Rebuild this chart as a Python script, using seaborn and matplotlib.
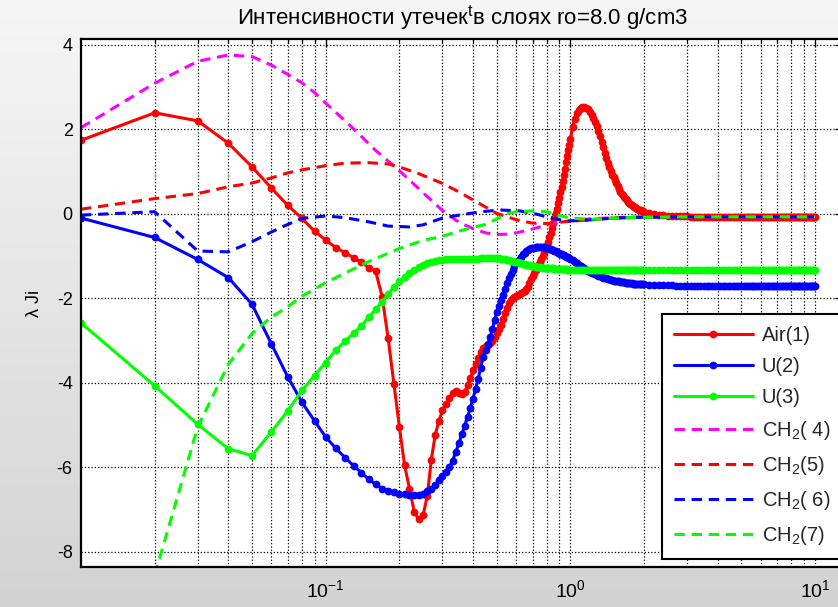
import numpy as np
import matplotlib
matplotlib.use("Agg")
import matplotlib.pyplot as plt
import seaborn as sns
from matplotlib.ticker import FixedLocator, LogLocator, NullFormatter
from matplotlib.colors import LinearSegmentedColormap

# ---------------- data ----------------
# shared x grid of the marker series
X_A = [0.01, 0.02, 0.03, 0.04, 0.05, 0.06, 0.07, 0.08, 0.09, 0.10,
       0.11, 0.12, 0.13, 0.14, 0.15, 0.16, 0.17, 0.18, 0.19, 0.20,
       0.21, 0.22, 0.23, 0.24, 0.25, 0.26, 0.27, 0.28, 0.29, 0.30]
X_B = [0.31, 0.32, 0.33, 0.34, 0.35, 0.36, 0.37, 0.38, 0.39, 0.40,
       0.41, 0.42, 0.43, 0.44, 0.45, 0.46, 0.47, 0.48, 0.49, 0.50,
       0.51, 0.52, 0.53, 0.54, 0.55, 0.56, 0.57, 0.58, 0.59, 0.60,
       0.61, 0.62, 0.63, 0.64, 0.65, 0.66, 0.67, 0.68, 0.69, 0.70,
       0.71, 0.72, 0.73, 0.74, 0.75, 0.76, 0.77, 0.78, 0.79, 0.80,
       0.81, 0.82, 0.83, 0.84, 0.85, 0.86, 0.87, 0.88, 0.89, 0.90,
       0.91, 0.92, 0.93, 0.94, 0.95, 0.96, 0.97, 0.98, 0.99, 1.00]
X_C = [1.02, 1.04, 1.06, 1.08, 1.10, 1.12, 1.14, 1.16, 1.18, 1.20,
       1.22, 1.24, 1.26, 1.28, 1.30, 1.32, 1.34, 1.36, 1.38, 1.40,
       1.42, 1.44, 1.46, 1.48, 1.50, 1.52, 1.54, 1.56, 1.58, 1.60,
       1.62, 1.64, 1.66, 1.68, 1.70, 1.72, 1.74, 1.76, 1.78, 1.80,
       1.82, 1.84, 1.86, 1.88, 1.90, 1.92, 1.94, 1.96, 1.98, 2.00]
X_D = [2.1, 2.2, 2.3, 2.4, 2.5, 2.6, 2.7, 2.8, 2.9, 3.0,
       3.1, 3.2, 3.3, 3.4, 3.5, 3.6, 3.7, 3.8, 3.9, 4.0,
       4.1, 4.2, 4.3, 4.4, 4.5, 4.6, 4.7, 4.8, 4.9, 5.0,
       5.1, 5.2, 5.3, 5.4, 5.5, 5.6, 5.7, 5.8, 5.9, 6.0,
       6.1, 6.2, 6.3, 6.4, 6.5, 6.6, 6.7, 6.8, 6.9, 7.0,
       7.1, 7.2, 7.3, 7.4, 7.5, 7.6, 7.7, 7.8, 7.9, 8.0,
       8.1, 8.2, 8.3, 8.4, 8.5, 8.6, 8.7, 8.8, 8.9, 9.0,
       9.1, 9.2, 9.3, 9.4, 9.5, 9.6, 9.7, 9.8, 9.9, 10.0]

AIR1_A = [1.74, 2.39, 2.20, 1.67, 1.11, 0.61, 0.20, -0.11, -0.41, -0.62,
          -0.80, -0.92, -1.04, -1.15, -1.27, -1.36, -1.96, -2.95, -4.03, -5.04,
          -5.95, -6.50, -7.05, -7.23, -7.13, -6.68, -5.83, -5.24, -4.90, -4.65]
AIR1_B = [-4.50, -4.35, -4.25, -4.20, -4.23, -4.26, -4.22, -4.05, -3.88, -3.70,
          -3.55, -3.40, -3.27, -3.17, -3.12, -3.10, -3.06, -3.00, -2.92, -2.83,
          -2.73, -2.62, -2.48, -2.35, -2.22, -2.12, -2.04, -1.99, -1.96, -1.94,
          -1.92, -1.90, -1.88, -1.86, -1.83, -1.79, -1.72, -1.63, -1.55, -1.48,
          -1.40, -1.33, -1.26, -1.20, -1.13, -1.07, -1.00, -0.92, -0.84, -0.75,
          -0.66, -0.56, -0.45, -0.33, -0.22, -0.10, 0.01, 0.12, 0.25, 0.38,
          0.51, 0.64, 0.78, 0.92, 1.07, 1.22, 1.36, 1.50, 1.64, 1.78]
AIR1_C = [2.05, 2.25, 2.38, 2.46, 2.51, 2.53, 2.53, 2.51, 2.47, 2.42,
          2.35, 2.26, 2.17, 2.07, 1.97, 1.84, 1.71, 1.58, 1.45, 1.33,
          1.21, 1.10, 1.01, 0.93, 0.86, 0.79, 0.72, 0.65, 0.58, 0.52,
          0.48, 0.44, 0.40, 0.36, 0.32, 0.29, 0.26, 0.24, 0.21, 0.19,
          0.17, 0.15, 0.13, 0.11, 0.10, 0.09, 0.08, 0.07, 0.06, 0.05]
AIR1_D = [0.02, 0.00, -0.02, -0.03, -0.04, -0.05, -0.05, -0.06, -0.06, -0.06,
          -0.07, -0.07, -0.07, -0.07, -0.07, -0.07, -0.07, -0.07, -0.07, -0.07,
          -0.07, -0.07, -0.07, -0.07, -0.07, -0.07, -0.07, -0.07, -0.07, -0.07,
          -0.07, -0.07, -0.07, -0.07, -0.07, -0.07, -0.07, -0.07, -0.07, -0.07,
          -0.07, -0.07, -0.07, -0.07, -0.07, -0.07, -0.07, -0.07, -0.07, -0.07,
          -0.07, -0.07, -0.07, -0.07, -0.07, -0.07, -0.07, -0.07, -0.07, -0.07,
          -0.07, -0.07, -0.07, -0.07, -0.07, -0.07, -0.07, -0.07, -0.07, -0.07,
          -0.07, -0.07, -0.07, -0.07, -0.07, -0.07, -0.07, -0.07, -0.07, -0.07]

U2_A = [-0.10, -0.56, -1.08, -1.51, -2.14, -3.08, -3.86, -4.46, -4.90, -5.28,
        -5.55, -5.77, -5.96, -6.13, -6.28, -6.40, -6.50, -6.56, -6.59, -6.62,
        -6.64, -6.65, -6.66, -6.65, -6.62, -6.57, -6.50, -6.42, -6.30, -6.20]
U2_B = [-6.11, -6.00, -5.84, -5.64, -5.43, -5.22, -5.01, -4.80, -4.59, -4.37,
        -4.14, -3.90, -3.64, -3.38, -3.23, -3.08, -2.91, -2.72, -2.52, -2.32,
        -2.18, -2.05, -1.91, -1.77, -1.64, -1.52, -1.42, -1.32, -1.24, -1.17,
        -1.11, -1.06, -1.01, -0.96, -0.92, -0.89, -0.86, -0.84, -0.82, -0.81,
        -0.80, -0.79, -0.78, -0.78, -0.78, -0.78, -0.78, -0.79, -0.80, -0.81,
        -0.82, -0.83, -0.84, -0.85, -0.86, -0.88, -0.89, -0.90, -0.92, -0.93,
        -0.95, -0.96, -0.97, -0.98, -1.00, -1.01, -1.02, -1.03, -1.05, -1.06]
U2_C = [-1.10, -1.13, -1.17, -1.20, -1.23, -1.26, -1.29, -1.32, -1.35, -1.37,
        -1.39, -1.41, -1.43, -1.45, -1.46, -1.48, -1.49, -1.51, -1.52, -1.53,
        -1.54, -1.55, -1.56, -1.57, -1.58, -1.59, -1.59, -1.60, -1.60, -1.61,
        -1.61, -1.62, -1.62, -1.63, -1.63, -1.63, -1.64, -1.64, -1.64, -1.65,
        -1.65, -1.65, -1.66, -1.66, -1.66, -1.66, -1.67, -1.67, -1.67, -1.67]
U2_D = [-1.68, -1.68, -1.69, -1.69, -1.69, -1.69, -1.70, -1.70, -1.70, -1.70,
        -1.70, -1.70, -1.70, -1.70, -1.70, -1.70, -1.70, -1.70, -1.70, -1.70,
        -1.70, -1.70, -1.70, -1.70, -1.70, -1.70, -1.70, -1.70, -1.70, -1.70,
        -1.70, -1.70, -1.70, -1.70, -1.70, -1.70, -1.70, -1.70, -1.70, -1.70,
        -1.70, -1.70, -1.70, -1.70, -1.70, -1.70, -1.70, -1.70, -1.70, -1.70,
        -1.70, -1.70, -1.70, -1.70, -1.70, -1.70, -1.70, -1.70, -1.70, -1.70,
        -1.70, -1.70, -1.70, -1.70, -1.70, -1.70, -1.70, -1.70, -1.70, -1.70,
        -1.70, -1.70, -1.70, -1.70, -1.70, -1.70, -1.70, -1.70, -1.70, -1.70]

U3_A = [-2.58, -4.07, -4.98, -5.56, -5.72, -5.16, -4.66, -4.18, -3.83, -3.52,
        -3.23, -3.01, -2.83, -2.65, -2.44, -2.26, -2.08, -1.90, -1.73, -1.60,
        -1.50, -1.40, -1.32, -1.25, -1.20, -1.16, -1.13, -1.11, -1.10, -1.09]
U3_B = [-1.08, -1.08, -1.07, -1.07, -1.06, -1.06, -1.06, -1.06, -1.07, -1.07,
        -1.06, -1.06, -1.05, -1.05, -1.05, -1.05, -1.04, -1.04, -1.04, -1.05,
        -1.05, -1.06, -1.07, -1.08, -1.09, -1.10, -1.11, -1.12, -1.13, -1.14,
        -1.15, -1.16, -1.17, -1.18, -1.19, -1.20, -1.21, -1.22, -1.23, -1.24,
        -1.24, -1.25, -1.25, -1.26, -1.26, -1.27, -1.27, -1.28, -1.28, -1.28,
        -1.28, -1.29, -1.29, -1.29, -1.29, -1.30, -1.30, -1.30, -1.30, -1.30,
        -1.31, -1.31, -1.31, -1.31, -1.31, -1.31, -1.32, -1.32, -1.32, -1.32]
U3_C = [-1.32, -1.32, -1.32, -1.32, -1.32, -1.32, -1.32, -1.32, -1.32, -1.32,
        -1.33, -1.33, -1.33, -1.33, -1.33, -1.33, -1.33, -1.33, -1.33, -1.33,
        -1.33, -1.33, -1.33, -1.33, -1.33, -1.33, -1.33, -1.33, -1.33, -1.33,
        -1.33, -1.33, -1.33, -1.33, -1.33, -1.33, -1.33, -1.33, -1.33, -1.33,
        -1.33, -1.33, -1.33, -1.33, -1.33, -1.33, -1.33, -1.33, -1.33, -1.33]
U3_D = [-1.33, -1.33, -1.33, -1.33, -1.33, -1.33, -1.33, -1.33, -1.33, -1.33,
        -1.33, -1.33, -1.33, -1.33, -1.33, -1.33, -1.33, -1.33, -1.33, -1.33,
        -1.33, -1.33, -1.33, -1.33, -1.33, -1.33, -1.33, -1.33, -1.33, -1.33,
        -1.33, -1.33, -1.33, -1.33, -1.33, -1.33, -1.33, -1.33, -1.33, -1.33,
        -1.33, -1.33, -1.33, -1.33, -1.33, -1.33, -1.33, -1.33, -1.33, -1.33,
        -1.33, -1.33, -1.33, -1.33, -1.33, -1.33, -1.33, -1.33, -1.33, -1.33,
        -1.33, -1.33, -1.33, -1.33, -1.33, -1.33, -1.33, -1.33, -1.33, -1.33,
        -1.33, -1.33, -1.33, -1.33, -1.33, -1.33, -1.33, -1.33, -1.33, -1.33]

# dashed CH2 series
X_CH4 = [0.01, 0.02, 0.03, 0.04, 0.05, 0.06, 0.07, 0.08, 0.09, 0.10, 0.12, 0.14,
         0.16, 0.18, 0.20, 0.22, 0.25, 0.30, 0.35, 0.40, 0.45, 0.50, 0.55, 0.60,
         0.67, 0.75, 0.85, 1.0, 1.2, 1.5, 2.0, 3.0, 5.0, 10.0]
Y_CH4 = [2.04, 3.09, 3.61, 3.76, 3.72, 3.52, 3.30, 3.10, 2.87, 2.62, 2.20, 1.83,
         1.50, 1.25, 1.02, 0.80, 0.50, 0.08, -0.20, -0.35, -0.45, -0.49, -0.48, -0.45,
         -0.39, -0.31, -0.22, -0.16, -0.12, -0.09, -0.07, -0.07, -0.07, -0.07]
X_CH5 = [0.01, 0.02, 0.03, 0.04, 0.05, 0.06, 0.07, 0.08, 0.10, 0.12, 0.15, 0.18,
         0.20, 0.24, 0.30, 0.35, 0.40, 0.45, 0.50, 0.60, 0.70, 0.80, 0.94, 1.2,
         1.4, 2.0, 3.0, 5.0, 10.0]
Y_CH5 = [0.11, 0.36, 0.48, 0.64, 0.73, 0.85, 0.97, 1.04, 1.14, 1.20, 1.21, 1.18,
         1.11, 0.95, 0.72, 0.52, 0.33, 0.16, 0.01, -0.14, -0.22, -0.23, -0.19, -0.14,
         -0.11, -0.08, -0.07, -0.07, -0.07]
X_CH6 = [0.01, 0.02, 0.03, 0.04, 0.05, 0.06, 0.07, 0.08, 0.10, 0.12, 0.15, 0.18,
         0.22, 0.25, 0.30, 0.36, 0.43, 0.52, 0.62, 0.73, 0.85, 0.97, 1.17, 1.5,
         2.0, 3.0, 5.0, 10.0]
Y_CH6 = [-0.03, 0.05, -0.88, -0.90, -0.66, -0.43, -0.25, -0.11, -0.05, -0.09, -0.19, -0.29,
         -0.31, -0.26, -0.10, -0.02, 0.05, 0.09, 0.07, -0.01, -0.11, -0.17, -0.15, -0.10,
         -0.08, -0.07, -0.07, -0.07]
X_CH7 = [0.02, 0.03, 0.04, 0.05, 0.06, 0.07, 0.08, 0.09, 0.10, 0.12, 0.15, 0.20,
         0.25, 0.30, 0.35, 0.40, 0.45, 0.50, 0.55, 0.60, 0.70, 0.80, 0.90, 1.0,
         1.2, 1.5, 2.0, 3.0, 5.0, 10.0]
Y_CH7 = [-8.55, -5.04, -3.56, -2.83, -2.44, -2.20, -1.95, -1.78, -1.63, -1.40, -1.13, -0.82,
         -0.63, -0.53, -0.41, -0.32, -0.25, -0.12, 0.00, 0.05, 0.07, 0.05, -0.04, -0.10,
         -0.13, -0.10, -0.08, -0.07, -0.07, -0.07]

X_TICKS = [0.1, 1, 10]
Y_TICKS = [-8, -6, -4, -2, 0, 2, 4]
TITLE = "Интенсивности утечек$^{t}$в слоях ro=8.0 g/cm3"
YLABEL = "λ Ji"
LABELS = ["Air(1)", "U(2)", "U(3)", "CH$_2$( 4)", "CH$_2$(5)", "CH$_2$( 6)", "CH$_2$(7)"]

# ---------------- style ----------------
sns.set_theme(style="white")
plt.rcParams["font.family"] = ["Liberation Sans", "DejaVu Sans"]
plt.rcParams["axes.unicode_minus"] = False
plt.rcParams["mathtext.default"] = "regular"

W, H = 838, 607
fig = plt.figure(figsize=(W / 100, H / 100), dpi=100)

# grey gradient background
bg = fig.add_axes([0, 0, 1, 1], zorder=-10)
cmap = LinearSegmentedColormap.from_list("bg", ["#f6f6f6", "#d3d3d3"])
bg.imshow(np.linspace(0, 1, 256).reshape(-1, 1), cmap=cmap, aspect="auto",
          extent=[0, 1, 0, 1], origin="upper")
bg.axis("off")

left, right, top, bottom = 81, 843, 39.3, 566.7
ax = fig.add_axes([left / W, 1 - bottom / H, (right - left) / W, (bottom - top) / H])
ax.set_facecolor("white")

x_all = X_A + X_B + X_C + X_D
solid = [(AIR1_A + AIR1_B + AIR1_C + AIR1_D, "#ff0000"),
         (U2_A + U2_B + U2_C + U2_D, "#0000ff"),
         (U3_A + U3_B + U3_C + U3_D, "#00ff00")]
for (yv, col), lab in zip(solid, LABELS[:3]):
    sns.lineplot(x=x_all, y=yv, ax=ax, color=col, linewidth=2.2, marker="o",
                 markersize=5.6, markeredgewidth=0, label=lab, estimator=None,
                 sort=False)

dashed = [(X_CH4, Y_CH4, "#ff00ff"), (X_CH5, Y_CH5, "#ff0000"),
          (X_CH6, Y_CH6, "#0000ff"), (X_CH7, Y_CH7, "#00ff00")]
for (xv, yv, col), lab in zip(dashed, LABELS[3:]):
    sns.lineplot(x=xv, y=yv, ax=ax, color=col, linewidth=2.2,
                 linestyle=(0, (3.4, 2.2)), label=lab, estimator=None, sort=False)

ax.set_xscale("log")
ax.set_xlim(0.01, 13.0)
ax.set_ylim(-8.35, 4.13)
ax.xaxis.set_major_locator(FixedLocator(X_TICKS))
ax.xaxis.set_minor_locator(LogLocator(base=10, subs=np.arange(2, 10), numticks=30))
ax.xaxis.set_minor_formatter(NullFormatter())
ax.set_yticks(Y_TICKS)

ax.set_axisbelow(True)
ax.grid(True, which="major", axis="both", color="black", linestyle=":", linewidth=0.9)
ax.grid(True, which="minor", axis="x", color="black", linestyle=":", linewidth=0.9)
ax.tick_params(which="both", direction="in", top=True, right=True, colors="black",
               width=0.9)
ax.tick_params(axis="y", which="major", labelsize=13, length=6, pad=6)
ax.tick_params(axis="x", which="major", labelsize=14, length=6, pad=9)
ax.tick_params(which="minor", length=3)
for sp in ax.spines.values():
    sp.set_color("black")
    sp.set_linewidth(1.6)

ax.set_title(TITLE, fontsize=16, pad=11, color="black")
ax.set_ylabel(YLABEL, fontsize=13, color="black")
ax.yaxis.set_label_coords(-0.05, 0.5)
ax.set_xlabel("")

leg = ax.legend(loc="upper left", bbox_to_anchor=(662 / W, 1 - 313.5 / H),
                bbox_transform=fig.transFigure, frameon=True, fancybox=False,
                edgecolor="black", framealpha=1, fontsize=14.5, handlelength=3.9,
                handletextpad=0.45, borderpad=0.6, labelspacing=0.6,
                borderaxespad=0)
leg.get_frame().set_linewidth(1.5)
leg.get_frame().set_facecolor("white")

fig.savefig("out.png", dpi=100)
